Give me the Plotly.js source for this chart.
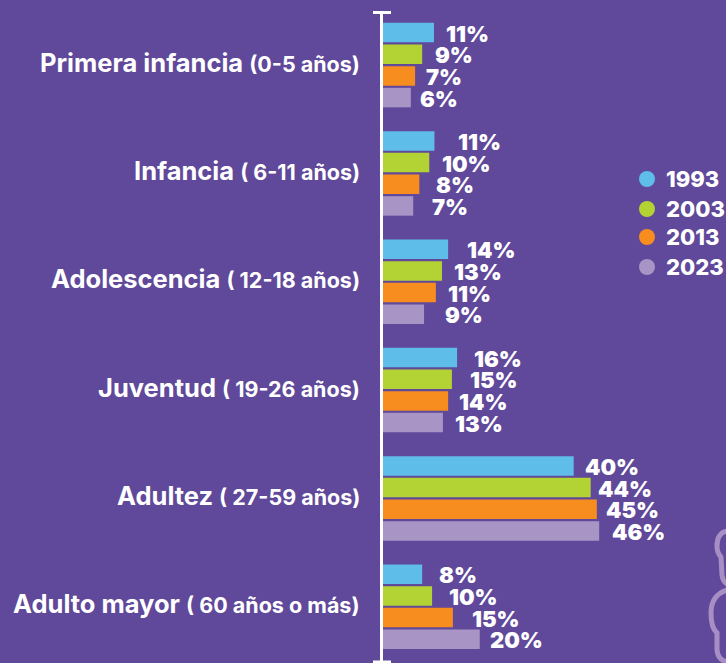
<!DOCTYPE html>
<html><head><meta charset="utf-8">
<script src="https://cdn.plot.ly/plotly-3.0.1.min.js"></script>
<style>html,body{margin:0;padding:0;background:#60489a;overflow:hidden}#c{width:726px;height:663px}</style>
</head><body><div id="c"></div>
<script>
const groups = ["Primera infancia","Infancia","Adolescencia","Juventud","Adultez","Adulto mayor"];
const ranges = ["(0-5 años)","( 6-11 años)","( 12-18 años)","( 19-26 años)","( 27-59 años)","( 60 años o más)"];
const years = ["1993","2003","2013","2023"];
const colors = ["#5fbdea","#b3d334","#f78d1f","#a994c6"];
const v1993 = [10.8,10.9,13.8,15.7,40.4,8.3];
const v2003 = [8.3,9.8,12.5,14.6,44.0,10.4];
const v2013 = [6.8,7.7,11.2,13.8,45.3,14.8];
const v2023 = [5.9,6.4,8.7,12.7,45.8,20.5];
const l1993 = ["11%","11%","14%","16%","40%","8%"];
const l2003 = ["9%","10%","13%","15%","44%","10%"];
const l2013 = ["7%","8%","11%","14%","45%","15%"];
const l2023 = ["6%","7%","9%","13%","46%","20%"];
const vals = [v1993,v2003,v2013,v2023], labs = [l1993,l2003,l2013,l2023];

const W=726,H=663,L=383,R=66,T=12,B=1;
const px = x => (x-L)/(W-L-R), py = y => 1-(y-T)/(H-T-B);
const FF = 'Inter, "Noto Sans", sans-serif';
const white = '#fff';
const labelGap = [[13,25,20,18,12,18],[14,14,13,19,8,18],[12,18,13,12,10,20],[10,20,22,13,14,11]];
const traces = years.map((y,i)=>({type:'bar',orientation:'h',name:y,x:vals[i],y:groups,
  marker:{color:colors[i],line:{width:0}},hoverinfo:'skip',showlegend:false}));

const annotations = [];
groups.forEach((g,i)=>{
  annotations.push({xref:'paper',yref:'y',x:px(362),y:i,xanchor:'right',yanchor:'middle',yshift:3,showarrow:false,
    text:`<b>${g} </b><span style="font-size:21.5px"><b>${ranges[i]}</b></span>`,
    font:{family:FF,size:25.5,color:white}});
  years.forEach((y,k)=>annotations.push({xref:'x',yref:'y',x:vals[k][i],y:i+(k-1.5)*0.2,xanchor:'left',yanchor:'middle',
    xshift:labelGap[k][i]-3,yshift:-1,showarrow:false,text:labs[k][i],
    font:{family:FF,size:22,color:white,weight:900}}));
});
const legendY=[179,209,237,267];
const shapes=[
  {type:'line',xref:'paper',yref:'paper',x0:px(373),x1:px(391),y0:py(12.5),y1:py(12.5),line:{color:white,width:3}},
  {type:'line',xref:'paper',yref:'paper',x0:px(373),x1:px(391),y0:py(662),y1:py(662),line:{color:white,width:3}},
  {type:'path',xref:'paper',yref:'paper',line:{color:'#a78fc6',width:5},
   path:`M ${px(727)} ${py(531)} Q ${px(717)} ${py(533)} ${px(717)} ${py(546)} Q ${px(717)} ${py(553)} ${px(721)} ${py(557)} L ${px(722)} ${py(575)} Q ${px(723)} ${py(582)} ${px(727)} ${py(584)}`},
  {type:'path',xref:'paper',yref:'paper',line:{color:'#a78fc6',width:5},
   path:`M ${px(727)} ${py(590)} Q ${px(711)} ${py(595)} ${px(711)} ${py(613)} Q ${px(711)} ${py(628)} ${px(717)} ${py(633)} L ${px(717)} ${py(650)} Q ${px(718)} ${py(660)} ${px(727)} ${py(662)}`}
];
years.forEach((y,i)=>{
  shapes.push({type:'circle',xref:'paper',yref:'paper',x0:px(639),x1:px(655),y0:py(legendY[i]-8),y1:py(legendY[i]+8),
    fillcolor:colors[i],line:{width:0}});
  annotations.push({xref:'paper',yref:'paper',x:px(664),y:py(legendY[i]),xanchor:'left',yanchor:'middle',showarrow:false,
    text:y,font:{family:FF,size:22,color:white,weight:800}});
});
const layout = {width:W,height:H,margin:{l:L,r:R,t:T,b:B,pad:0,autoexpand:false},paper_bgcolor:'#60489a',plot_bgcolor:'rgba(0,0,0,0)',
  barmode:'group',bargap:0.2,bargroupgap:0.1,showlegend:false,
  xaxis:{range:[0,277/4.72],visible:false,fixedrange:true},
  yaxis:{type:'category',categoryorder:'array',categoryarray:groups,autorange:false,range:[5.51,-0.49],
    showline:true,linecolor:white,linewidth:3,showgrid:false,zeroline:false,ticks:'',showticklabels:false},
  annotations,shapes};
Plotly.newPlot('c',traces,layout,{staticPlot:true,displayModeBar:false});
</script></body></html>
